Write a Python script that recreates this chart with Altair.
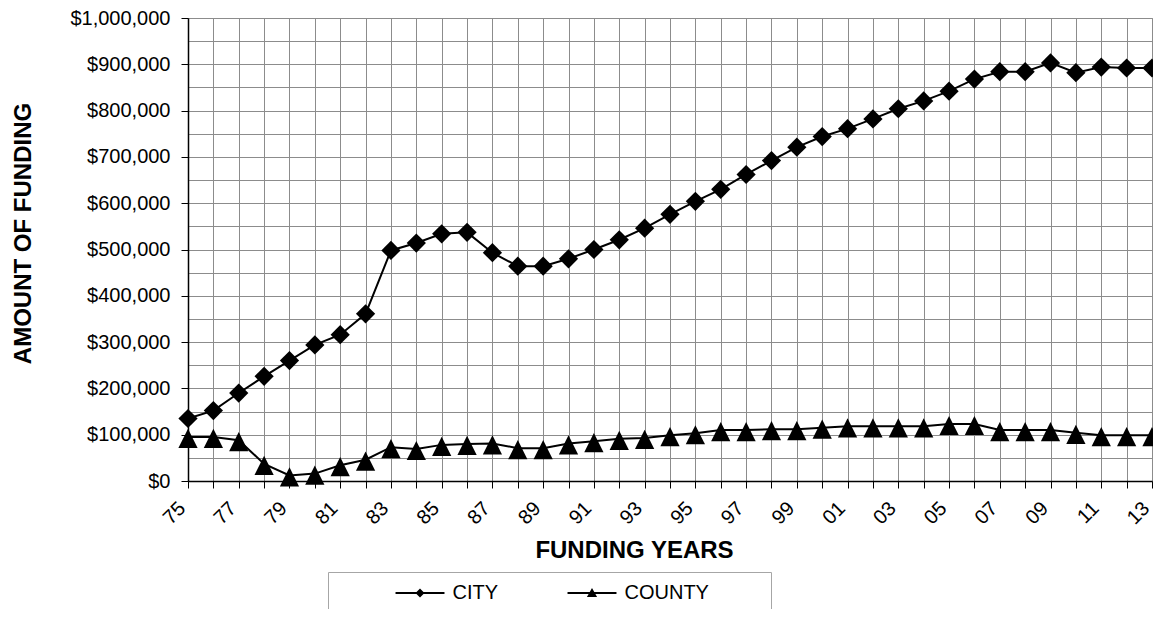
import altair as alt
import pandas as pd

years = list(range(1975, 2014))
city = [135000, 152000, 190000, 226000, 260000, 294000, 316000, 361000, 498000, 514000,
        534000, 537000, 493000, 464000, 464000, 480000, 500000, 521000, 546000, 576000,
        604000, 630000, 662000, 692000, 721000, 744000, 761000, 782000, 804000, 821000,
        842000, 868000, 884000, 884000, 903000, 882000, 894000, 892000, 892000]
county = [95000, 95000, 88000, 37000, 12000, 16000, 34000, 46000, 73000, 69000,
          78000, 80000, 81000, 71000, 71000, 81000, 86000, 91000, 93000, 99000,
          103000, 110000, 110000, 112000, 112000, 115000, 118000, 118000, 118000, 118000,
          123000, 123000, 110000, 110000, 110000, 104000, 99000, 99000, 99000]
series_names = ["CITY", "COUNTY"]
y_ticks = list(range(0, 1000001, 50000))

df = pd.DataFrame({
    "year": years + years,
    "value": city + county,
    "series": [series_names[0]] * len(years) + [series_names[1]] * len(years),
})

FONT = "Liberation Sans"
DIAMOND = "M0,-1L1,0L0,1L-1,0Z"
TRIANGLE = "M0,-0.85L1,1.15L-1,1.15Z"
# legend symbols: a thin horizontal bar with the marker in the middle
LEG_LINE = "M-4.08,-0.17L4.08,-0.17L4.08,0.17L-4.08,0.17Z"
LEG_DIAMOND = LEG_LINE + "M0,-0.75L0.75,0L0,0.75L-0.75,0Z"
LEG_TRIANGLE = LEG_LINE + "M0,-0.85L0.85,0.65L-0.85,0.65Z" + "M28,0L28,0"

x_enc = alt.X(
    "year:Q",
    scale=alt.Scale(domain=[1975, 2013], nice=False, zero=False),
    axis=alt.Axis(
        values=years,
        labelExpr="datum.value % 2 == 1 ? substring(toString(datum.value), 2) : ''",
        title="FUNDING YEARS",
        labelAngle=-45, labelAlign="right", labelBaseline="middle",
        labelPadding=17, labelOffset=-6, tickSize=7, labelOverlap=False, labelFlush=False,
        titleX=446, titleY=69, titleBaseline="middle", titleAlign="center",
    ),
)
y_enc = alt.Y(
    "value:Q",
    scale=alt.Scale(domain=[0, 1000000], nice=False),
    axis=alt.Axis(
        values=y_ticks,
        labelExpr="datum.value % 100000 == 0 ? '$' + format(datum.value, ',') : ''",
        tickOpacity={"condition": {"test": "datum.value % 100000 != 0", "value": 0}, "value": 1},
        title="AMOUNT OF FUNDING",
        titleX=-165, titleY=215, titleAngle=-90, titleAlign="center", titleBaseline="middle",
        tickSize=7, labelPadding=11, labelOverlap=False, labelFlush=False,
    ),
)

base = alt.Chart(df)

lines = base.mark_line(color="black", strokeWidth=2).encode(x=x_enc, y=y_enc, detail="series:N")

points = base.mark_point(filled=True, color="black", opacity=1, strokeWidth=0).encode(
    x=x_enc, y=y_enc,
    shape=alt.Shape("series:N", scale=alt.Scale(domain=series_names, range=[DIAMOND, TRIANGLE]), legend=None),
    size=alt.value(370),
)

legend_layer = base.mark_point(filled=True, color="black", opacity=1).encode(
    x=x_enc, y=y_enc,
    shape=alt.Shape(
        "series:N",
        scale=alt.Scale(domain=series_names, range=[LEG_DIAMOND, LEG_TRIANGLE]),
        legend=alt.Legend(
            orient="none", legendX=140, legendY=554, direction="horizontal",
            title="\u00a0", titleOrient="left", titleFontSize=1, titlePadding=71,
            symbolSize=144, symbolStrokeWidth=0, symbolFillColor="black",
            symbolOpacity=1, labelOffset=22.5, labelFontSize=20, labelFont=FONT, labelColor="black",
            labelLimit=300,
            strokeColor="#a6a6a6", padding=11, columnPadding=68,
        ),
    ),
).transform_filter("false")

chart = alt.layer(lines, points, legend_layer).resolve_scale(shape="independent").properties(
    width=964, height=463,
    autosize=alt.AutoSizeParams(type="none"),
    padding={"left": 180, "top": 10, "right": 1, "bottom": 128},
).configure_axis(
    labelFont=FONT, labelFontSize=20, labelColor="black",
    titleFont=FONT, titleFontSize=24, titleFontWeight="bold", titleColor="black",
    gridColor="#8c8c8c", gridWidth=1, gridOpacity=1,
    domainColor="black", domainWidth=1.5, tickColor="black", tickWidth=1,
).configure_view(stroke="#8c8c8c", strokeWidth=1)

chart.save("out.html", embed_options={"renderer": "svg", "actions": False})
